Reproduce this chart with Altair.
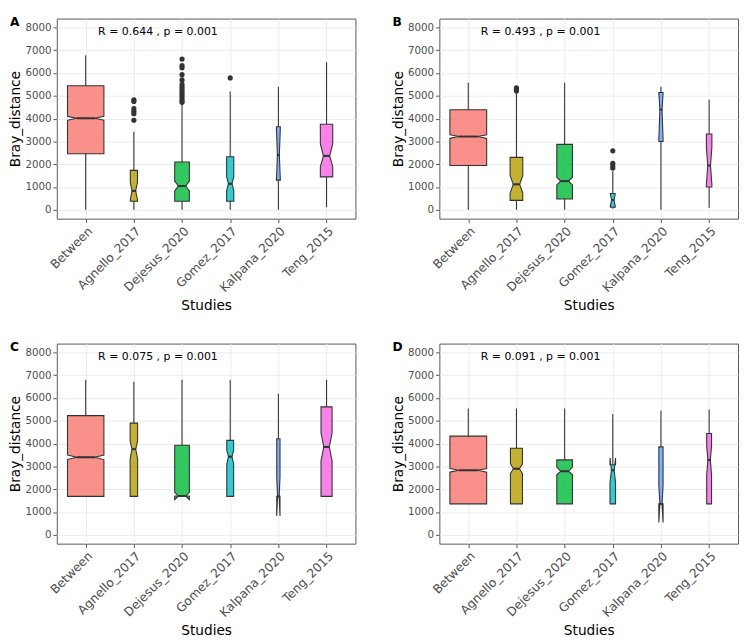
import altair as alt
import pandas as pd

studies = ["Between", "Agnello_2017", "Dejesus_2020", "Gomez_2017", "Kalpana_2020", "Teng_2015"]
colors = ["#F8766D", "#B79F00", "#00BA38", "#00BFC4", "#619CFF", "#F564E3"]
panel_labels = ["A", "B", "C", "D"]
annotations = ["R = 0.644 , p = 0.001", "R = 0.493 , p = 0.001",
               "R = 0.075 , p = 0.001", "R = 0.091 , p = 0.001"]
y_ticks = [0, 1000, 2000, 3000, 4000, 5000, 6000, 7000, 8000]

# ---- Panel A ----
a_ymin = [0, 0, 0, 0, 0, 114]
a_q1 = [2457, 371, 371, 371, 1300, 1443]
a_med = [4014, 829, 1043, 1143, 2400, 2367]
a_q3 = [5443, 1729, 2100, 2329, 3643, 3754]
a_ymax = [6786, 3429, 4650, 5186, 5400, 6471]
a_nlo = [3930, 444, 829, 830, 1320, 1896]
a_nhi = [4100, 1214, 1257, 1450, 3600, 2898]
a_width = [0.756, 0.149, 0.304, 0.149, 0.081, 0.257]
a_out = [[], [3930, 4214, 4329, 4443, 4757, 4829],
         [4714, 4800, 4900, 5000, 5100, 5186, 5300, 5386, 5500, 5700, 5929, 6229, 6329, 6614],
         [5786], [], []]

# ---- Panel B ----
b_ymin = [0, 0, 0, 43, 0, 86]
b_q1 = [1943, 414, 471, 114, 3000, 1000]
b_med = [3214, 1114, 1257, 429, 4400, 1943]
b_q3 = [4386, 2300, 2871, 714, 5143, 3329]
b_ymax = [5571, 5114, 5571, 1686, 5400, 4829]
b_nlo = [3134, 730, 1090, 160, 3100, 1110]
b_nhi = [3294, 1500, 1420, 700, 5100, 2760]
b_width = [0.763, 0.263, 0.324, 0.101, 0.088, 0.115]
b_out = [[], [5214, 5286, 5357], [], [1829, 1930, 2043, 2586], [], []]

# ---- Panel C ----
c_ymin = [1686, 1686, 1700, 1686, 1686, 1686]
c_q1 = [1686, 1686, 1700, 1686, 1686, 1686]
c_med = [3400, 3757, 1700, 3430, 1686, 3857]
c_q3 = [5229, 4900, 3929, 4143, 4214, 5614]
c_ymax = [6800, 6714, 6800, 6800, 6186, 6800]
c_nlo = [3300, 3329, 1540, 3110, 829, 3240]
c_nhi = [3500, 4114, 1860, 3700, 2543, 4470]
c_width = [0.756, 0.155, 0.304, 0.142, 0.068, 0.230]
c_out = [[], [], [], [], [], []]

# ---- Panel D ----
d_ymin = [1357, 1357, 1357, 1357, 1357, 1357]
d_q1 = [1357, 1357, 1357, 1357, 1357, 1357]
d_med = [2829, 2900, 2786, 2829, 1357, 3286]
d_q3 = [4329, 3800, 3286, 3071, 3857, 4443]
d_ymax = [5543, 5543, 5543, 5300, 5443, 5500]
d_nlo = [2749, 2686, 2640, 2287, 543, 2614]
d_nhi = [2909, 3114, 2970, 3371, 2171, 3900]
d_width = [0.763, 0.250, 0.324, 0.115, 0.088, 0.101]
d_out = [[], [], [], [], [], []]

panels = [
    (a_ymin, a_q1, a_med, a_q3, a_ymax, a_nlo, a_nhi, a_width, a_out),
    (b_ymin, b_q1, b_med, b_q3, b_ymax, b_nlo, b_nhi, b_width, b_out),
    (c_ymin, c_q1, c_med, c_q3, c_ymax, c_nlo, c_nhi, c_width, c_out),
    (d_ymin, d_q1, d_med, d_q3, d_ymax, d_nlo, d_nhi, d_width, d_out),
]

label_expr = "[" + ",".join("'" + s + "'" for s in studies) + "][datum.value - 1]"

xscale = alt.Scale(domain=[0.4, 6.6], nice=False, zero=False)
yscale = alt.Scale(domain=[-390, 8390], nice=False, zero=False)
xaxis = alt.Axis(values=list(range(1, 7)), labelExpr=label_expr, labelAngle=-45,
                 labelAlign="right", labelBaseline="top", labelFontSize=12.5,
                 labelColor="#4D4D4D", labelPadding=2, tickSize=4, tickColor="#555555",
                 domain=False, grid=True, gridColor="#EBEBEB", title="Studies",
                 titleFontSize=14, titleFontWeight="normal", titleColor="black",
                 titlePadding=5, labelOverlap=False)
yaxis = alt.Axis(values=y_ticks, format="d", labelFontSize=10.5, labelColor="#4D4D4D",
                 labelPadding=2, tickSize=4, tickColor="#555555", domain=False, grid=True,
                 gridColor="#EBEBEB", title="Bray_distance", titleFontSize=14,
                 titleFontWeight="normal", titleColor="black", titlePadding=2)
fill_scale = alt.Scale(domain=studies, range=colors)


def make_panel(idx):
    ymin, q1, med, q3, ymax, nlo, nhi, width, outs = panels[idx]
    stats, pts = [], []
    box_layers = []
    for i, s in enumerate(studies):
        pos = i + 1
        half = width[i] / 2
        ind = width[i] / 4
        xs = [pos - half, pos - half + ind, pos + half - ind, pos + half]
        lo_top = [nlo[i], med[i], med[i], nlo[i]]
        hi_bot = [nhi[i], med[i], med[i], nhi[i]]
        for part, tops, base in (("lo", lo_top, q1[i]), ("hi", hi_bot, q3[i])):
            df = pd.DataFrame({"x": xs, "y": tops, "y2": [base] * 4, "study": [s] * 4})
            box_layers.append(
                alt.Chart(df).mark_area(stroke="#333333", strokeWidth=1.1, fillOpacity=0.8,
                                        line=False).encode(
                    x=alt.X("x:Q", scale=xscale, axis=xaxis),
                    y=alt.Y("y:Q", scale=yscale, axis=yaxis),
                    y2="y2:Q",
                    fill=alt.Fill("study:N", scale=fill_scale, legend=None)))
        stats.append({"study": s, "pos": pos, "ymin": ymin[i], "q1": q1[i], "q3": q3[i],
                      "ymax": ymax[i], "med": med[i], "ml": pos - half + ind,
                      "mr": pos + half - ind})
        for v in outs[i]:
            pts.append({"study": s, "pos": pos, "v": v})
    stats = pd.DataFrame(stats)
    pts = pd.DataFrame(pts if pts else [{"study": "Between", "pos": 1, "v": None}])

    upper = alt.Chart(stats).mark_rule(color="#333333", strokeWidth=1.1).encode(
        x=alt.X("pos:Q", scale=xscale, axis=xaxis),
        y=alt.Y("q3:Q", scale=yscale, axis=yaxis),
        y2="ymax:Q")
    lower = alt.Chart(stats).mark_rule(color="#333333", strokeWidth=1.1).encode(
        x=alt.X("pos:Q", scale=xscale, axis=xaxis),
        y=alt.Y("ymin:Q", scale=yscale, axis=yaxis),
        y2="q1:Q")
    medians = alt.Chart(stats).mark_rule(color="#333333", strokeWidth=2).encode(
        x=alt.X("ml:Q", scale=xscale, axis=xaxis),
        x2="mr:Q",
        y=alt.Y("med:Q", scale=yscale, axis=yaxis))
    outliers = alt.Chart(pts).mark_circle(size=28, color="#333333", opacity=1).encode(
        x=alt.X("pos:Q", scale=xscale, axis=xaxis),
        y=alt.Y("v:Q", scale=yscale, axis=yaxis))
    ann = alt.Chart(pd.DataFrame([{"x": 2.5, "y": 7790, "t": annotations[idx]}])).mark_text(
        fontSize=11.2, align="center", baseline="middle", color="black").encode(
        x=alt.X("x:Q", scale=xscale, axis=xaxis),
        y=alt.Y("y:Q", scale=yscale, axis=yaxis),
        text="t:N")
    tag = alt.Chart(pd.DataFrame([{"t": panel_labels[idx]}])).mark_text(
        fontSize=12.5, fontWeight="bold", align="left", baseline="alphabetic",
        color="black").encode(x=alt.value(-48), y=alt.value(8), text="t:N")
    return alt.layer(upper, lower, *box_layers, medians, outliers, ann, tag).properties(
        width=306, height=205)


row1 = alt.hconcat(make_panel(0), make_panel(1), spacing=35)
row2 = alt.hconcat(make_panel(2), make_panel(3), spacing=35)
chart = alt.vconcat(row1, row2, spacing=28).properties(
    padding={"left": 0, "top": 0, "right": 0, "bottom": 0}
).configure(font="DejaVu Sans").configure_view(stroke="#555555", strokeWidth=1)

chart.save("out.html", embed_options={"renderer": "svg", "actions": False})
